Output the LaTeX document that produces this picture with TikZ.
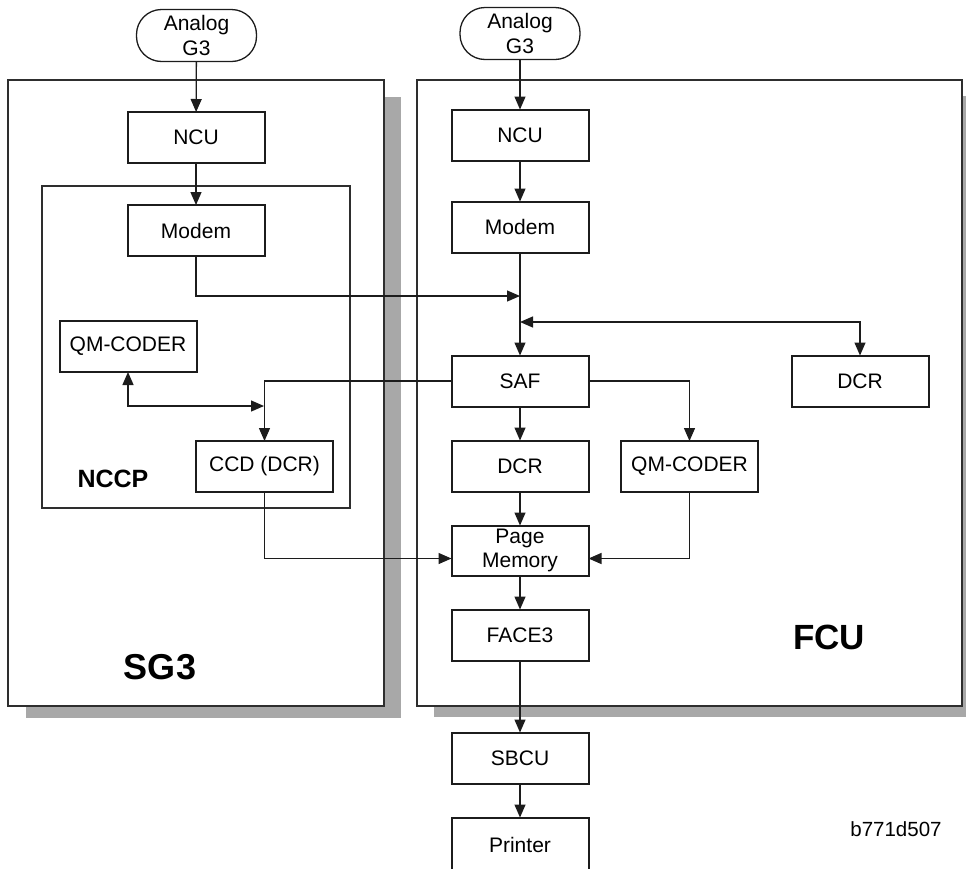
\documentclass[tikz,border=0pt]{standalone}
\usepackage{fontspec}
\setmainfont{Liberation Sans}
\usetikzlibrary{arrows.meta,positioning}
\definecolor{ink}{HTML}{1C1C1C}
\definecolor{frame}{HTML}{2E2E2E}
\definecolor{dropgray}{HTML}{A8A8A8}
\tikzset{
  unit/.style={rectangle, draw=ink, line width=2pt, fill=white, align=center,
               minimum width=137pt, minimum height=51pt, inner sep=0pt, outer sep=0pt,
               font=\fontsize{21}{24.5}\selectfont},
  jack/.style={unit, rounded corners=25pt, line width=1.3pt,
               minimum width=120pt, minimum height=52pt},
  panel/.style={rectangle, draw=frame, line width=1.8pt, inner sep=0pt, outer sep=0pt},
  drop/.style={fill=dropgray},
  tag/.style={font=\bfseries\fontsize{36}{40}\selectfont},
  fl/.style={-{Triangle[length=13pt,width=11pt]}, draw=ink, line width=1.3pt},
  fl2/.style={{Triangle[length=13pt,width=11pt]}-{Triangle[length=13pt,width=11pt]},
              draw=ink, line width=1.3pt}
}

\begin{document}
\begin{tikzpicture}[x=1pt,y=-1pt]
  \useasboundingbox (0,0) rectangle (966,868);
  % shadows and the two units
  \path[drop] (26,97) rectangle (401,718);
  \path[drop] (434,96) rectangle (980,717);
  \node[panel, fill=white, minimum width=376pt, minimum height=626pt] (sg3) at (196,393) {};
  \node[panel, fill=white, minimum width=545pt, minimum height=626pt] (fcu) at (689.5,393) {};
  \node[panel, minimum width=308pt, minimum height=322pt] (nccp) at (196,347) {};

  % SG3 side
  \node[jack] (lineL) at (196.5,35.5) {Analog\\G3};
  \node[unit] (ncuL) at (196,137.5) {NCU};
  \node[unit] (modemL) at (196,230.5) {Modem};
  \node[unit] (qmL) at (128,346.5) {QM-CODER};
  \node[unit] (ccd) at (264.5,466.5) {CCD (DCR)};

  % FCU side
  \node[jack] (lineR) at (520,33.5) {Analog\\G3};
  \node[unit] (ncuR) at (520,135) {NCU};
  \node[unit, below=41pt of ncuR] (modemR) {Modem};
  \node[unit] (saf) at (520,381) {SAF};
  \node[unit, below=34pt of saf] (dcr) {DCR};
  \node[unit, below=34pt of dcr, minimum height=50pt] (pm) {Page\\Memory};
  \node[unit, below=34pt of pm] (face) {FACE3};
  \node[unit, below=72pt of face] (sbcu) {SBCU};
  \node[unit, below=34pt of sbcu, minimum height=55pt] (prn) {Printer};
  \node[unit] (dcrX) at (860,381) {DCR};
  \node[unit] (qmR) at (689.5,466.5) {QM-CODER};

  % labels
  \node[tag] (sg3t) at (160,667) {SG3};
  \node[tag, font=\bfseries\fontsize{35}{40}\selectfont] (fcut) at (829,637) {FCU};
  \node[font=\bfseries\fontsize{25}{30}\selectfont] (nccpt) at (113,479) {NCCP};
  \node[font=\fontsize{20.5}{24}\selectfont] (fig) at (896,829) {b771d507};

  \coordinate (joinM) at (520,296);
  \coordinate (joinD) at (520,322);
  \coordinate (joinQ) at (264,406);

  \draw[fl] (lineL) -- (ncuL);
  \draw[fl] (ncuL) -- (modemL);
  \draw[fl] (lineR) -- (ncuR);
  \draw[fl] (ncuR) -- (modemR);
  \draw[fl] (modemR) -- (saf);
  \draw[fl] (modemL.south) |- (joinM);
  \draw[fl2] (joinD) -| (dcrX.north);
  \draw[fl2] (qmL.south) |- (joinQ);
  \draw[fl] (saf.west) -| (ccd.north);
  \draw[fl] (saf.east) -| (qmR.north);
  \draw[fl] (saf) -- (dcr);
  \draw[fl] (dcr) -- (pm);
  \draw[fl] (ccd.south) |- ([yshift=-8pt]pm.west);
  \draw[fl] (qmR.south) |- ([yshift=-8pt]pm.east);
  \draw[fl] (pm) -- (face);
  \draw[fl] (face) -- (sbcu);
  \draw[fl] (sbcu) -- (prn);
\end{tikzpicture}
\end{document}
